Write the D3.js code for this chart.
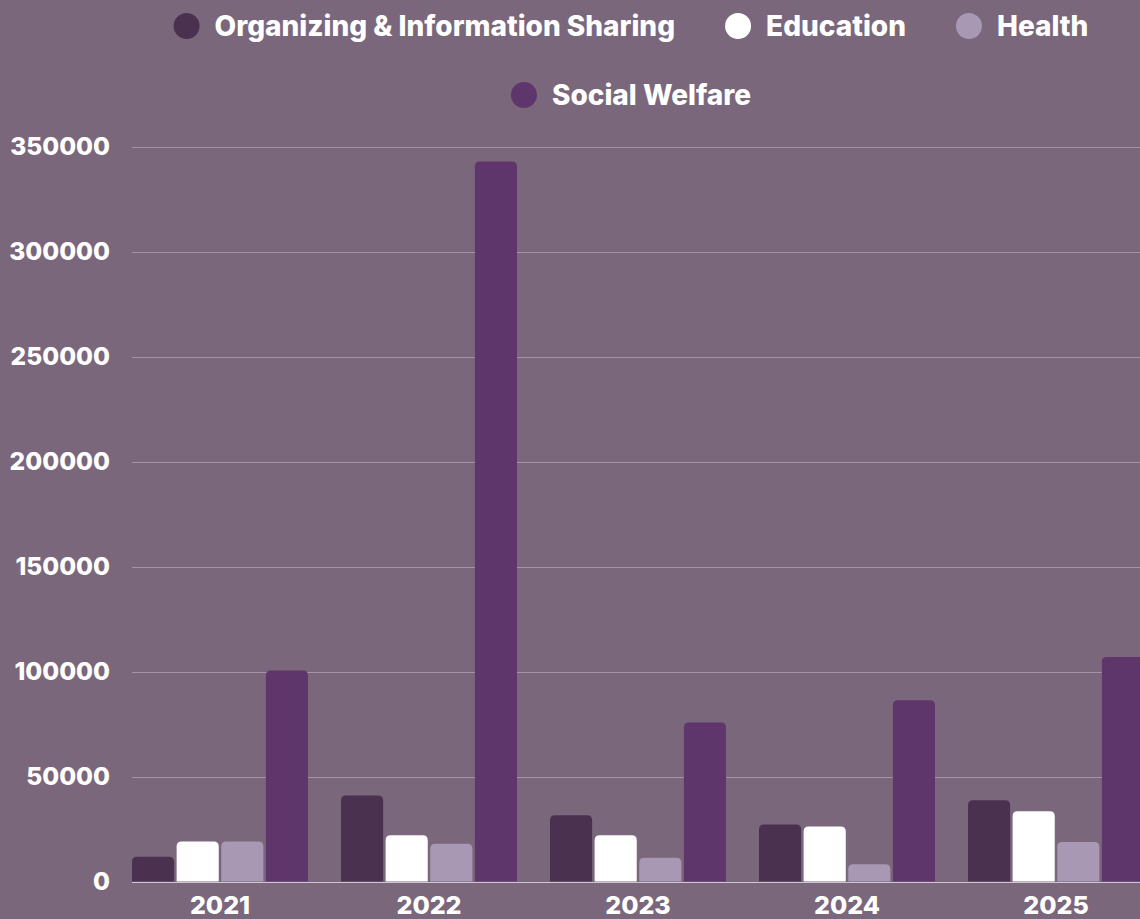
<!DOCTYPE html>
<html>
<head>
<meta charset="utf-8">
<script src="https://cdn.jsdelivr.net/npm/d3@7"></script>
<style>
  html, body { margin: 0; padding: 0; background: #7a677c; overflow: hidden; }
  svg { display: block; font-family: Inter, "Open Sans", sans-serif; font-weight: 800; }
</style>
</head>
<body>
<div id="chart"></div>
<script>
/*
** Data
*/
var years = ["2021", "2022", "2023", "2024", "2025"]
  , series = ["Organizing & Information Sharing", "Education", "Health", "Social Welfare"]
  , organizing = [11800, 41000, 31500, 27200, 38700]
  , education = [19100, 22000, 22000, 26200, 33500]
  , health = [19100, 18000, 11300, 8200, 18800]
  , welfare = [100500, 342900, 75700, 86300, 106900]
  , yTicks = [0, 50000, 100000, 150000, 200000, 250000, 300000, 350000]
  , colors = ["#4a3150", "#ffffff", "#a898b3", "#5f366b"]
;

var values = [organizing, education, health, welfare];

/*
** Layout
*/
var width = 1140
  , height = 919
  , plot = { left: 132, top: 146.5, bottom: 881.5 }
  , step = 209
  , gap = 33
;

var svg = d3.select("#chart").append("svg")
    .attr("width", width)
    .attr("height", height)
;

var x0 = d3.scaleBand()
    .domain(years)
    .range([plot.left - gap / 2, plot.left - gap / 2 + step * years.length])
    .paddingInner(gap / step)
    .paddingOuter(gap / step / 2)
;
var x1 = d3.scaleBand()
    .domain(series)
    .range([0, x0.bandwidth()])
    .paddingInner(0.056)
;
var y = d3.scaleLinear()
    .domain([0, 350000])
    .range([plot.bottom, plot.top])
;
var color = d3.scaleOrdinal().domain(series).range(colors);

// gridlines + y labels
var grid = svg.append("g").attr("class", "grid");
grid.selectAll("line")
    .data(yTicks)
  .enter().append("line")
    .attr("x1", plot.left)
    .attr("x2", width)
    .attr("y1", function(d) { return Math.round(y(d)) + 0.5; })
    .attr("y2", function(d) { return Math.round(y(d)) + 0.5; })
    .attr("stroke", function(d) { return d === 0 ? "#cfc4d1" : "#a594a8"; })
    .attr("stroke-width", 1)
;
grid.selectAll("text")
    .data(yTicks)
  .enter().append("text")
    .attr("x", 110)
    .attr("y", function(d) { return y(d); })
    .attr("dy", "0.36em")
    .attr("text-anchor", "end")
    .attr("fill", "#ffffff")
    .style("font-size", "24.5px")
    .text(function(d) { return d; })
;

// bars with rounded top corners
function topRounded(x, yTop, w, h, r) {
  r = Math.min(r, w / 2, h);
  return "M" + x + "," + (yTop + h)
    + "V" + (yTop + r)
    + "Q" + x + "," + yTop + " " + (x + r) + "," + yTop
    + "H" + (x + w - r)
    + "Q" + (x + w) + "," + yTop + " " + (x + w) + "," + (yTop + r)
    + "V" + (yTop + h) + "Z";
}

var groups = svg.append("g").attr("class", "bars")
  .selectAll("g")
    .data(years)
  .enter().append("g")
    .attr("transform", function(d) { return "translate(" + x0(d) + ",0)"; })
;
groups.selectAll("path")
    .data(function(d, i) {
        return series.map(function(s, j) { return { key: s, value: values[j][i] }; });
      })
  .enter().append("path")
    .attr("fill", function(d) { return color(d.key); })
    .attr("d", function(d) {
        return topRounded(x1(d.key), y(d.value), x1.bandwidth(), y(0) - y(d.value), 5);
      })
;

// x labels (the reference crops them at the bottom edge)
svg.append("g").attr("class", "xlabels")
  .selectAll("text")
    .data(years)
  .enter().append("text")
    .attr("x", function(d) { return x0(d) + x0.bandwidth() / 2; })
    .attr("y", 914)
    .attr("text-anchor", "middle")
    .attr("fill", "#ffffff")
    .style("font-size", "25px")
    .text(function(d) { return d; })
;

// legend: flow into rows, each centred
var legend = svg.append("g").attr("class", "legend")
  , r = 13
  , textGap = 15
  , itemGap = 50
  , maxRow = 980
  , centre = 631
  , rowY = [26, 95]
;
var items = series.map(function(s) {
    var g = legend.append("g");
    g.append("circle").attr("r", r).attr("cx", r).attr("fill", color(s));
    var t = g.append("text")
        .attr("x", 2 * r + textGap)
        .attr("dy", "0.35em")
        .attr("fill", "#ffffff")
        .style("font-size", "28px")
        .text(s);
    return { g: g, w: 2 * r + textGap + t.node().getComputedTextLength() };
  });
var rows = [[]], rowW = [0];
items.forEach(function(it) {
    var k = rows.length - 1
      , add = (rows[k].length ? itemGap : 0) + it.w;
    if(rows[k].length && rowW[k] + add > maxRow) {
        rows.push([]); rowW.push(0); k++; add = it.w;
    }
    rows[k].push(it); rowW[k] += add;
  });
rows.forEach(function(row, k) {
    var cx = centre - rowW[k] / 2;
    row.forEach(function(it) {
        it.g.attr("transform", "translate(" + cx + "," + rowY[k] + ")");
        cx += it.w + itemGap;
      });
  });
</script>
</body>
</html>
